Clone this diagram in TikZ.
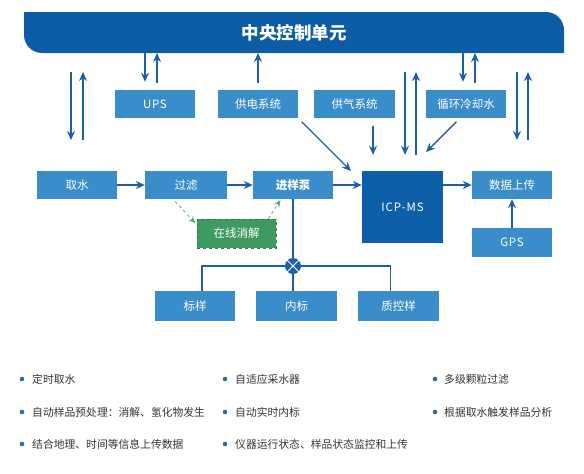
\documentclass[tikz,border=0pt]{standalone}
\usepackage{fontspec}
\setmainfont{Noto Sans CJK SC}
\usetikzlibrary{arrows.meta}
\definecolor{bannerblue}{HTML}{0C5DA5}
\definecolor{boxblue}{HTML}{3B8DC9}
\definecolor{icpblue}{HTML}{0E5FAA}
\definecolor{arrowblue}{HTML}{1B5FA6}
\definecolor{greenbox}{HTML}{3E9A60}
\definecolor{greenline}{HTML}{5AAA78}
\definecolor{textgray}{HTML}{333333}
\definecolor{dotblue}{HTML}{1F6FB5}
\begin{document}
\begin{tikzpicture}[x=1pt,y=-1pt,
  box/.style={fill=boxblue, text=white, minimum width=80pt, minimum height=28pt, inner sep=0pt, font=\fontsize{11.5}{13}\selectfont},
  arr/.style={draw=arrowblue, line width=1.4pt, -{Stealth[length=9pt,width=8pt]}},
  link/.style={draw=arrowblue, line width=1.2pt},
  garr/.style={draw=greenline, dashed, line width=0.8pt, -{Stealth[length=7pt,width=6pt]}},
  dot/.style={circle, fill=dotblue, inner sep=0pt, minimum size=4.6pt},
  item/.style={anchor=west, inner sep=0pt, text=textgray, font=\fontsize{10.8}{12}\selectfont}
]
\useasboundingbox (0,0) rectangle (584,474);
% banner
\fill[bannerblue] (24,12) -- (546,12) arc[start angle=90,end angle=0,radius=18pt] -- (564,53) -- (42,53) arc[start angle=270,end angle=180,radius=18pt] -- cycle;
\node[minimum width=540pt, minimum height=41pt, inner sep=0pt, text=white, font=\fontsize{17.5}{20}\selectfont\bfseries] (banner) at (294,32.5) {中央控制单元};

% upper row
\node[box] (ups) at (155,104) {\addfontfeature{LetterSpace=6}UPS};
\node[box] (gd) at (258,104) {供电系统};
\node[box, minimum width=81pt] (gq) at (354.5,104) {供气系统};
\node[box] (xl) at (466,104) {循环冷却水};

% middle row
\node[box] (qs) at (77,185) {取水};
\node[box, minimum width=82pt] (gl) at (186,185) {过滤};
\node[box, font=\fontsize{11.5}{13}\selectfont\bfseries] (jy) at (293,185) {进样泵};
\node[box, fill=icpblue, minimum width=81pt, minimum height=72pt] (icp) at (402.5,207) {\addfontfeature{LetterSpace=8}ICP-MS};
\node[box] (sj) at (512,185) {数据上传};
\node[box, minimum height=29pt] (gps) at (512,242.5) {\addfontfeature{LetterSpace=6}GPS};
\node[box, fill=greenbox, draw=greenbox!80!black, dashed, line width=0.6pt, minimum width=79pt, minimum height=29pt] (zx) at (236.5,233.5) {在线消解};

% lower row
\node[box, minimum height=30pt] (by) at (195,306) {标样};
\node[box, minimum height=30pt, minimum width=81pt] (nb) at (296.5,306) {内标};
\node[box, minimum height=30pt, minimum width=81pt] (zk) at (398.5,306) {质控样};
\node[circle, fill=arrowblue, minimum size=16pt, inner sep=0pt] (mix) at (293,266) {};

% coordinates
\coordinate (b1) at (145,53);
\coordinate (b2) at (157,53);
\coordinate (b3) at (258,53);
\coordinate (b4) at (463,53);
\coordinate (b5) at (475,53);
\coordinate (la) at (71,72);
\coordinate (lb) at (71,140);
\coordinate (lc) at (83,140);
\coordinate (ld) at (83,72);
\coordinate (ra) at (517,72);
\coordinate (rb) at (517,140);
\coordinate (rc) at (528,140);
\coordinate (rd) at (528,72);
\coordinate (ma) at (405,72);
\coordinate (mc) at (416,72);
\coordinate (gqa) at (373,118);
\coordinate (dgtip) at (351,171);
\coordinate (xtip) at (426,152);

% banner connections
\draw[arr, shorten >=8pt] (b1) -- (b1 |- ups.north);
\draw[arr, shorten <=7pt] (b2 |- ups.north) -- (b2);
\draw[arr, shorten <=7pt] (b3 |- gd.north) -- (b3);
\draw[arr, shorten >=8pt] (b4) -- (b4 |- xl.north);
\draw[arr, shorten <=7pt] (b5 |- xl.north) -- (b5);
\draw[arr] (la) -- (lb);
\draw[arr] (lc) -- (ld);
\draw[arr] (ra) -- (rb);
\draw[arr] (rc) -- (rd);
\draw[arr, shorten >=16pt] (ma) -- (ma |- icp.north);
\draw[arr, shorten <=16pt] (mc |- icp.north) -- (mc);

% supplies to ICP
\draw[arr, shorten <=5pt] (gd.south east) -- (dgtip);
\draw[arr, shorten <=8pt, shorten >=16pt] (gqa) -- (gqa |- icp.north);
\draw[arr, shorten <=5pt] ([xshift=-6pt]xl.south) -- (xtip);

% main flow
\draw[arr] (qs.east) -- (gl.west);
\draw[arr] (gl.east) -- (jy.west);
\draw[arr] (jy.east) -- (icp.west |- jy.east);
\draw[arr] (icp.east |- sj.west) -- (sj.west);
\draw[arr] (gps.north) -- (sj.south);

% digestion
\draw[garr, shorten <=3pt, shorten >=2pt] ([xshift=-13pt]gl.south) -- ([yshift=-6pt]zx.north west);
\draw[garr, shorten >=1pt] ([xshift=-8pt]zx.north east) -- ([xshift=-12pt]jy.south);

% mixing
\draw[link] (jy.south) -- (mix.north);
\draw[link] (mix.south) -- (mix |- nb.north);
\draw[link] ([xshift=7pt]by.north) |- (mix.west);
\draw[link] ([xshift=-8pt]zk.north) |- (mix.east);
\draw[white, line width=0.8pt] (mix.north west) -- (mix.south east) (mix.north east) -- (mix.south west);

% bullet list
\node[dot] (d1) at (22,379) {};
\node[item] (t1) at (32,379) {定时取水};
\node[dot] (d2) at (225,379) {};
\node[item] (t2) at (235,379) {自适应采水器};
\node[dot] (d3) at (435,379) {};
\node[item] (t3) at (444,379) {多级颗粒过滤};
\node[dot] (d4) at (22,412) {};
\node[item] (t4) at (32,412) {自动样品预处理：消解、氢化物发生};
\node[dot] (d5) at (225,412) {};
\node[item] (t5) at (235,412) {自动实时内标};
\node[dot] (d6) at (435,412) {};
\node[item] (t6) at (444,412) {根据取水触发样品分析};
\node[dot] (d7) at (22,444) {};
\node[item] (t7) at (32,444) {结合地理、时间等信息上传数据};
\node[dot] (d8) at (225,444) {};
\node[item] (t8) at (235,444) {仪器运行状态、样品状态监控和上传};
\end{tikzpicture}
\end{document}
